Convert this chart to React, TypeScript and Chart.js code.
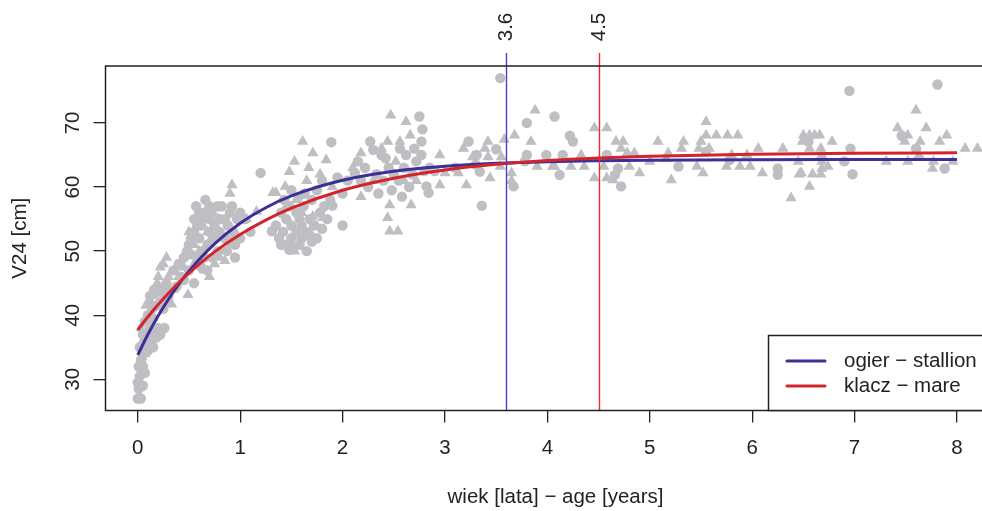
import React, { useEffect, useRef } from "react";
import { Chart, registerables } from "chart.js";
Chart.register(...registerables);

const FONT = '"Liberation Sans", Arial, Helvetica, sans-serif';
const FS = 20.5;

const xTicks = [0, 1, 2, 3, 4, 5, 6, 7, 8];
const yTicks = [30, 40, 50, 60, 70];
const xTitle = "wiek [lata] \u2212 age [years]";
const yTitle = "V24 [cm]";
const legendLabels = ["ogier \u2212 stallion", "klacz \u2212 mare"];
const stallionThreshold = 3.6;
const mareThreshold = 4.5;

const curveX = [0, 0.1, 0.2, 0.3, 0.4, 0.5, 0.75, 1, 1.25, 1.5, 2, 2.5, 3, 3.5, 4, 4.5, 5, 6, 7, 8];
const stallionCurve = [33.8, 37.03, 39.92, 42.5, 44.81, 46.88, 51.13, 54.35, 56.77, 58.61, 61.05, 62.45, 63.24, 63.7, 63.96, 64.1, 64.19, 64.26, 64.29, 64.3];
const mareCurve = [37.7, 39.76, 41.66, 43.43, 45.06, 46.57, 49.88, 52.6, 54.85, 56.7, 59.49, 61.38, 62.67, 63.54, 64.14, 64.54, 64.82, 65.13, 65.28, 65.34];

const circlePoints: [number, number][] = [
  [0.0, 27], [0.03, 27], [0.01, 28.5], [0.0, 29.5], [0.02, 30.5], [0.04, 31], [0.01, 32], [0.03, 33], [0.05, 32],
  [0.06, 34], [0.02, 35], [0.08, 35.5], [0.1, 34.5], [0.09, 37], [0.12, 38], [0.13, 36], [0.15, 35], [0.16, 37.5],
  [0.18, 36.5], [0.2, 38], [0.1, 40], [0.14, 41], [0.12, 43], [0.16, 44], [0.2, 44], [0.22, 42], [0.25, 41],
  [0.18, 41.5], [0.07, 39], [0.05, 37], [0.15, 39.5], [0.22, 37], [0.26, 38], [0.24, 43.5], [0.28, 44.5], [0.3, 42],
  [0.05, 29], [0.07, 31],
  [0.35, 47], [0.4, 48], [0.42, 46], [0.45, 49], [0.48, 50], [0.5, 51], [0.52, 52], [0.55, 53], [0.55, 55], [0.57, 57],
  [0.6, 56], [0.62, 54], [0.6, 52], [0.63, 50], [0.65, 49], [0.68, 51], [0.7, 53], [0.7, 55], [0.7, 57], [0.72, 56],
  [0.75, 54], [0.75, 52], [0.78, 50], [0.8, 53], [0.8, 55], [0.82, 57], [0.85, 55], [0.85, 52], [0.88, 54], [0.9, 56],
  [0.92, 57], [0.93, 53], [0.95, 51], [0.97, 55], [1.0, 56], [1.05, 55], [1.1, 53], [0.58, 49], [0.62, 47.5], [0.68, 47],
  [0.5, 47], [0.55, 45], [0.45, 45.5], [0.38, 44.5], [0.3, 43], [0.28, 45], [0.65, 56], [0.78, 57], [0.87, 50],
  [0.73, 49], [0.9, 51.5], [0.95, 49], [1.0, 52], [0.52, 49.5], [0.58, 54], [0.66, 58], [0.6, 48],
  [1.35, 54], [1.38, 52], [1.4, 56], [1.42, 53], [1.45, 51], [1.45, 55], [1.48, 57], [1.5, 52], [1.5, 54], [1.52, 50.5],
  [1.55, 53], [1.55, 56], [1.58, 51], [1.6, 54], [1.6, 52], [1.62, 57], [1.65, 50], [1.65, 53], [1.68, 55], [1.7, 51.5],
  [1.7, 58], [1.72, 54], [1.75, 52], [1.78, 56], [1.8, 53.5], [1.82, 57], [1.85, 55], [1.88, 58], [1.9, 57.1], [1.43, 58],
  [1.57, 58.5], [1.63, 59], [1.75, 59.5], [1.5, 59.5], [1.68, 52.5], [1.58, 55], [1.48, 50.2], [1.4, 51], [2.0, 54],
  [1.31, 53.1], [1.2, 62.2], [1.89, 67], [1.8, 61],
  [2.12, 62.2], [2.18, 61], [2.22, 63], [2.27, 67.1], [2.3, 65.8], [2.38, 65], [2.33, 62], [2.4, 61], [2.45, 63], [2.5, 62],
  [2.55, 61], [2.6, 63], [2.65, 60], [2.68, 62], [2.72, 64], [2.75, 71], [2.78, 69], [2.8, 62.5], [2.85, 63], [2.82, 60.1],
  [2.84, 59.1], [2.56, 66], [2.62, 65], [2.7, 66], [2.77, 67.1], [2.77, 65], [2.9, 62.5], [2.25, 60], [2.35, 59],
  [2.48, 59.5], [2.58, 58.5], [2.15, 64], [2.42, 64.5], [2.0, 59], [1.95, 61.5], [2.05, 61],
  [3.54, 77], [3.23, 67.1], [3.8, 70], [4.07, 71], [4.22, 68], [4.25, 67.1], [3.5, 65.9], [3.31, 65], [3.8, 65], [3.99, 65],
  [3.78, 64], [3.34, 62.4], [3.36, 57.1], [3.67, 60.1], [4.12, 61.9], [4.15, 65], [4.58, 65], [3.3, 63.5], [3.1, 63],
  [4.69, 62.9], [4.66, 61.9], [4.72, 60.1], [5.28, 63.2], [5.55, 65.5], [5.78, 64.2], [6.25, 62.9], [6.25, 61.9],
  [6.95, 75], [7.81, 76], [6.96, 66], [6.9, 64], [6.98, 62], [7.46, 68], [7.6, 66], [7.88, 62.9], [6.55, 67.1],
];

const trianglePoints: [number, number][] = [
  [0.02, 31], [0.04, 33.5], [0.07, 34], [0.09, 36], [0.11, 39], [0.13, 42], [0.16, 43], [0.19, 45], [0.22, 47.5],
  [0.25, 48], [0.28, 49], [0.1, 42], [0.08, 41.5], [0.33, 41.7], [0.49, 43.2], [0.35, 44], [0.3, 46], [0.2, 46],
  [0.05, 36], [0.03, 38],
  [0.5, 53], [0.55, 51], [0.6, 50], [0.65, 47], [0.7, 46], [0.75, 48], [0.8, 49], [0.85, 48.5], [0.62, 55], [0.68, 53],
  [0.78, 55], [0.9, 59], [0.92, 60.3], [1.06, 55], [1.16, 56.2], [1.32, 59.1], [0.4, 46], [0.45, 47.5], [0.55, 48],
  [0.72, 52], [0.95, 53],
  [1.35, 59.1], [1.44, 60.1], [1.48, 62.4], [1.53, 64], [1.61, 67.1], [1.71, 65.3], [1.84, 64.2], [1.71, 55.4],
  [1.81, 55.2], [1.53, 50], [1.75, 53.9], [1.6, 56], [1.55, 58], [1.65, 61], [1.78, 62], [1.9, 60], [1.45, 57], [1.67, 63],
  [2.47, 71.2], [2.62, 70.2], [2.44, 67.1], [2.56, 67.1], [2.66, 68.1], [2.18, 65.3], [2.46, 57.2], [2.67, 57.2],
  [2.44, 55.2], [2.46, 53.1], [2.54, 53.1], [2.18, 58.5], [2.3, 61], [2.52, 64], [2.6, 61], [2.72, 61], [2.95, 65],
  [2.95, 60.3], [2.1, 63], [2.38, 66],
  [3.88, 72], [3.42, 67.1], [3.58, 67.4], [3.68, 68.1], [3.84, 67.1], [3.18, 66], [3.39, 66], [3.27, 64.7], [3.42, 64.7],
  [3.55, 64.7], [4.46, 69.2], [4.58, 69.2], [4.33, 65], [4.07, 63.2], [4.23, 63.2], [4.36, 63.2], [4.55, 63.2],
  [4.46, 61.4], [4.58, 61.4], [3.21, 60.3], [3.13, 62.2], [3.0, 62.2], [3.44, 61.4], [3.65, 62.2], [3.65, 61],
  [3.54, 63.2], [3.9, 63.2], [4.05, 63.2],
  [5.55, 70.2], [4.67, 67.1], [4.74, 67.1], [5.08, 67.1], [5.33, 67.1], [5.55, 68.1], [5.65, 68.1], [5.76, 68.1],
  [5.86, 68.1], [5.5, 67.1], [5.31, 66], [5.48, 66], [5.58, 66], [6.06, 66], [6.3, 66], [4.72, 66], [4.78, 65.3],
  [4.85, 65.3], [5.18, 65.3], [5.16, 64.4], [5.8, 65], [5.95, 65], [4.8, 63.2], [4.9, 62.2], [5.46, 63.2], [5.52, 62.2],
  [5.75, 63.2], [5.88, 63.2], [5.98, 63.2], [6.1, 62.2], [5.21, 61.1], [4.64, 61.1], [6.38, 58.3], [6.56, 60.1], [5.0, 64],
  [6.5, 68.1], [6.56, 68.1], [6.61, 68.1], [6.66, 68.1], [6.49, 67.1], [6.78, 67.1], [6.56, 66], [6.67, 66], [6.68, 65],
  [6.45, 64], [6.68, 64], [6.68, 62.9], [6.46, 62], [6.59, 62], [6.67, 62], [7.6, 72], [7.42, 69.2], [7.7, 69.2],
  [7.52, 68.1], [7.9, 68.1], [7.49, 67.1], [7.64, 67.1], [7.83, 67.1], [7.63, 65], [7.31, 64], [7.52, 64], [7.77, 64],
  [7.96, 64], [7.76, 62.9], [8.08, 66], [8.2, 66], [6.48, 62.2], [6.74, 63.2],
];

const BLUE = "#3b2f98";
const RED = "#d4242b";
const GREY = "rgb(190,190,195)";
const INK = "#222222";

export default function App() {
  const ref = useRef<HTMLCanvasElement | null>(null);

  useEffect(() => {
    const canvas = ref.current;
    if (!canvas) return;

    const overlay = {
      id: "overlay",
      afterDraw(chart: any) {
        const { ctx, chartArea, scales } = chart;
        const xs = scales.x;
        const ys = scales.y;
        ctx.save();
        const th = [
          { v: stallionThreshold, c: "#4a3dd0" },
          { v: mareThreshold, c: "#ee2a2f" },
        ];
        th.forEach((t) => {
          const px = Math.round(xs.getPixelForValue(t.v)) + 0.5;
          ctx.strokeStyle = t.c;
          ctx.lineWidth = 1.4;
          ctx.beginPath();
          ctx.moveTo(px, 53);
          ctx.lineTo(px, chartArea.bottom);
          ctx.stroke();
          ctx.save();
          ctx.translate(px, 27);
          ctx.rotate(-Math.PI / 2);
          ctx.fillStyle = INK;
          ctx.font = `${FS}px ${FONT}`;
          ctx.textAlign = "center";
          ctx.textBaseline = "middle";
          ctx.fillText(String(t.v), 0, 0);
          ctx.restore();
        });
        ctx.strokeStyle = INK;
        ctx.lineWidth = 1.5;
        ctx.strokeRect(chartArea.left, chartArea.top, chartArea.right - chartArea.left, chartArea.bottom - chartArea.top);
        ctx.fillStyle = INK;
        ctx.font = `${FS}px ${FONT}`;
        ctx.textAlign = "center";
        ctx.textBaseline = "middle";
        yTicks.forEach((v) => {
          const py = ys.getPixelForValue(v);
          ctx.save();
          ctx.translate(73, py);
          ctx.rotate(-Math.PI / 2);
          ctx.fillText(String(v), 0, 0);
          ctx.restore();
        });
        ctx.save();
        ctx.translate(20, (chartArea.top + chartArea.bottom) / 2);
        ctx.rotate(-Math.PI / 2);
        ctx.fillText(yTitle, 0, 0);
        ctx.restore();
        ctx.fillText(xTitle, (chartArea.left + chartArea.right) / 2, 497);
        const lx = 768.5;
        const ly = 335.5;
        ctx.fillStyle = "#ffffff";
        ctx.fillRect(lx, ly, chartArea.right - lx, chartArea.bottom - ly);
        ctx.strokeStyle = INK;
        ctx.lineWidth = 1.5;
        ctx.strokeRect(lx, ly, chartArea.right - lx, chartArea.bottom - ly);
        const cols = [BLUE, RED];
        legendLabels.forEach((lab, i) => {
          const y = 361 + i * 25;
          ctx.strokeStyle = cols[i];
          ctx.lineWidth = 3;
          ctx.lineCap = "round";
          ctx.beginPath();
          ctx.moveTo(787, y);
          ctx.lineTo(825, y);
          ctx.stroke();
          ctx.fillStyle = INK;
          ctx.textAlign = "left";
          ctx.textBaseline = "middle";
          ctx.fillText(lab, 844, y);
        });
        ctx.restore();
      },
    };

    const chart = new Chart(canvas, {
      type: "scatter",
      data: {
        datasets: [
          {
            label: legendLabels[1],
            data: curveX.map((x, i) => ({ x, y: mareCurve[i] })),
            showLine: true,
            borderColor: RED,
            borderWidth: 3,
            pointRadius: 0,
            cubicInterpolationMode: "monotone",
            fill: false,
          },
          {
            label: legendLabels[0],
            data: curveX.map((x, i) => ({ x, y: stallionCurve[i] })),
            showLine: true,
            borderColor: BLUE,
            borderWidth: 3,
            pointRadius: 0,
            cubicInterpolationMode: "monotone",
            fill: false,
          },
          {
            label: "circles",
            data: circlePoints.map(([x, y]) => ({ x, y })),
            pointStyle: "circle",
            pointRadius: 5.2,
            backgroundColor: GREY,
            borderWidth: 0,
          },
          {
            label: "triangles",
            data: trianglePoints.map(([x, y]) => ({ x, y })),
            pointStyle: "triangle",
            pointRadius: 6.5,
            backgroundColor: GREY,
            borderWidth: 0,
          },
        ],
      },
      options: {
        animation: false,
        responsive: false,
        maintainAspectRatio: false,
        layout: { padding: { top: 66, right: 0, left: 0, bottom: 0 } },
        plugins: { legend: { display: false }, tooltip: { enabled: false } },
        scales: {
          x: {
            type: "linear",
            min: -0.315,
            max: 8.474,
            afterBuildTicks: (s: any) => {
              s.ticks = xTicks.map((value) => ({ value }));
            },
            afterFit: (s: any) => {
              s.height = 100.5;
            },
            border: { display: false },
            grid: { drawOnChartArea: false, drawTicks: true, tickLength: 12, color: INK, lineWidth: 1.3 },
            ticks: { font: { family: FONT, size: FS }, color: INK, padding: 14, maxRotation: 0, autoSkip: false },
          },
          y: {
            type: "linear",
            min: 25.136,
            max: 78.885,
            afterBuildTicks: (s: any) => {
              s.ticks = yTicks.map((value) => ({ value }));
            },
            afterFit: (s: any) => {
              s.width = 105.5;
            },
            border: { display: false },
            grid: { drawOnChartArea: false, drawTicks: true, tickLength: 12, color: INK, lineWidth: 1.3 },
            ticks: { display: false },
          },
        },
      },
      plugins: [overlay],
    });
    return () => chart.destroy();
  }, []);

  return (
    <div style={{ position: "absolute", left: 0, top: 0, width: 982, height: 511, overflow: "hidden", background: "#fff" }}>
      <canvas ref={ref} width={1012} height={511} style={{ display: "block", width: 1012, height: 511 }} />
    </div>
  );
}
